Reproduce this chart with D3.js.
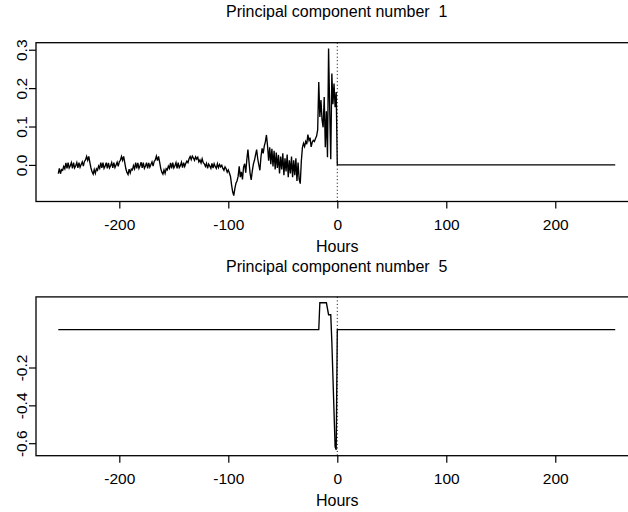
<!DOCTYPE html>
<html>
<head>
<meta charset="utf-8">
<script src="https://cdn.jsdelivr.net/npm/d3@7"></script>
<style>
  body { margin: 0; background: #fff; }
  text { font-family: "Liberation Sans", Arial, Helvetica, sans-serif; fill: #000; white-space: pre; }
</style>
</head>
<body>
<div id="chart"></div>
<script>
// hours -256 .. -1, one reading per hour
const hoursBefore = d3.range(-256, 0);
const pc1Before = [
  -0.023, -0.009, -0.023, -0.012, -0.014, -0.004, -0.010, 0.005, -0.009, 0.006, -0.008, -0.002, 0.006, -0.009, 0.006, -0.008,
  -0.002, 0.006, -0.008, 0.006, -0.006, 0.001, 0.008, -0.003, 0.009, 0.013, 0.022, 0.012, 0.022, 0.006, -0.008, -0.018,
  -0.024, -0.012, -0.022, -0.010, -0.014, -0.003, -0.009, 0.006, -0.008, 0.006, -0.009, -0.003, 0.006, -0.009, 0.005, -0.008,
  -0.002, 0.006, -0.008, 0.006, -0.007, 0.000, 0.007, -0.004, 0.008, 0.012, 0.022, 0.012, 0.022, 0.006, -0.010, -0.020,
  -0.025, -0.011, -0.021, -0.011, -0.013, -0.002, -0.010, 0.006, -0.009, 0.005, -0.009, -0.002, 0.007, -0.008, 0.006, -0.009,
  -0.003, 0.006, -0.009, 0.005, -0.006, 0.001, 0.008, -0.003, 0.009, 0.013, 0.023, 0.011, 0.022, 0.007, -0.009, -0.019,
  -0.024, -0.013, -0.022, -0.010, -0.013, -0.003, -0.009, 0.005, -0.009, 0.006, -0.008, -0.002, 0.006, -0.009, 0.006, -0.007,
  -0.002, 0.007, -0.007, 0.006, -0.004, 0.004, 0.010, 0.006, 0.016, 0.022, 0.014, 0.023, 0.018, 0.012, 0.021, 0.015,
  0.020, 0.008, 0.013, 0.005, 0.016, 0.006, 0.003, -0.004, 0.004, -0.009, 0.002, -0.003, -0.009, 0.004, -0.008, 0.003,
  -0.004, -0.009, 0.003, -0.007, 0.001, -0.005, -0.001, -0.009, -0.014, -0.005, -0.010, -0.019, -0.013, -0.021, -0.030, -0.052,
  -0.070, -0.080, -0.062, -0.048, -0.042, -0.030, -0.004, -0.032, -0.018, -0.038, -0.006, 0.003, -0.020, 0.014, 0.040, 0.008,
  -0.022, -0.039, -0.016, 0.002, 0.012, 0.026, 0.040, 0.016, 0.000, -0.014, 0.022, 0.043, 0.030, 0.049, 0.060, 0.078,
  0.050, 0.011, 0.046, 0.002, 0.042, -0.004, 0.037, -0.012, 0.032, -0.008, 0.026, -0.022, 0.022, -0.012, 0.030, -0.027,
  0.017, -0.017, 0.027, -0.032, 0.012, -0.022, 0.022, -0.032, 0.012, -0.027, 0.017, -0.042, 0.006, -0.037, -0.049, 0.010,
  0.045, 0.056, 0.048, 0.061, 0.054, 0.079, 0.064, 0.071, 0.047, 0.059, 0.064, 0.061, 0.069, 0.075, 0.091, 0.216,
  0.125, 0.169, 0.118, 0.098, 0.177, 0.046, 0.140, 0.020, 0.303, 0.150, 0.015, 0.238, 0.158, 0.212, 0.150, 0.190
];
// from hour 0 on the component is flat
const pc1AfterHours = [0, 255];
const pc1After = [0, 0];

const pc5Hours = [-256, -17, -16, -10, -8, -6, -5, -2, -1, 0, 255];
const pc5Values = [0, 0, 0.142, 0.142, 0.079, 0.079, -0.065, -0.620, -0.635, 0, 0];

const xTicks = [-200, -100, 0, 100, 200];
const pc1Ticks = [0.0, 0.1, 0.2, 0.3];
const pc5Ticks = [-0.6, -0.4, -0.2];
const titles = ['Principal component number  1', 'Principal component number  5'];
const xLabel = 'Hours';

const W = 628, H = 512;
const left = 36, right = 637.5;   // right edge of the box falls outside the picture
const plotH = 158.8;
const tops = [42.7, 296.9];
const fontSize = '15.5px';

const svg = d3.select('#chart').append('svg')
  .attr('width', W)
  .attr('height', H);
svg.append('rect').attr('width', W).attr('height', H).attr('fill', '#fff');

// R style extended range (4% each side)
function rRange(ext) {
  const d = (ext[1] - ext[0]) * 0.04;
  return [ext[0] - d, ext[1] + d];
}

const x = d3.scaleLinear()
  .domain(rRange([-256, 255]))
  .range([left, right]);

const pc1Points = hoursBefore.map((h, i) => [h, pc1Before[i]])
  .concat(pc1AfterHours.map((h, i) => [h, pc1After[i]]));
const pc5Points = pc5Hours.map((h, i) => [h, pc5Values[i]]);

const panels = [
  { top: tops[0], points: pc1Points, ticks: pc1Ticks, title: titles[0] },
  { top: tops[1], points: pc5Points, ticks: pc5Ticks, title: titles[1] }
];

panels.forEach(p => {
  const bottom = p.top + plotH;
  const y = d3.scaleLinear()
    .domain(rRange(d3.extent(p.points, d => d[1])))
    .range([bottom, p.top]);

  const g = svg.append('g');

  // dotted line at hour 0
  g.append('line')
    .attr('x1', x(0)).attr('x2', x(0))
    .attr('y1', p.top).attr('y2', bottom)
    .attr('stroke', '#000')
    .attr('stroke-width', 1)
    .attr('stroke-dasharray', '1,2.5');

  g.append('path')
    .datum(p.points)
    .attr('fill', 'none')
    .attr('stroke', '#000')
    .attr('stroke-width', 1.35)
    .attr('d', d3.line().x(d => x(d[0])).y(d => y(d[1])));

  // box
  g.append('rect')
    .attr('x', left).attr('y', p.top)
    .attr('width', right - left).attr('height', plotH)
    .attr('fill', 'none')
    .attr('stroke', '#000')
    .attr('stroke-width', 1.3);

  // x axis
  const xa = g.append('g')
    .attr('transform', `translate(0,${bottom})`)
    .call(d3.axisBottom(x).tickValues(xTicks).tickSize(7).tickSizeOuter(0)
      .tickPadding(10.5).tickFormat(d => String(d)));
  xa.select('.domain').remove();
  xa.selectAll('line').attr('stroke-width', 1.2);
  xa.selectAll('text').attr('font-size', fontSize).attr('font-family', null);

  // y axis, labels turned like R
  const ya = g.append('g')
    .attr('transform', `translate(${left},0)`)
    .call(d3.axisLeft(y).tickValues(p.ticks).tickSize(7).tickSizeOuter(0)
      .tickFormat(d => d.toFixed(1)));
  ya.select('.domain').remove();
  ya.selectAll('line').attr('stroke-width', 1.2);
  ya.selectAll('text')
    .attr('font-size', fontSize)
    .attr('font-family', null)
    .attr('x', null).attr('dy', null)
    .attr('text-anchor', 'middle')
    .attr('transform', 'translate(-9.5,0) rotate(-90)');

  svg.append('text')
    .attr('x', x(0))
    .attr('y', bottom + 50)
    .attr('text-anchor', 'middle')
    .attr('font-size', '16px')
    .text(xLabel);

  svg.append('text')
    .attr('x', (left + right) / 2)
    .attr('y', p.top - 25.4)
    .attr('text-anchor', 'middle')
    .attr('font-size', '16px')
    .text(p.title);
});
</script>
</body>
</html>
